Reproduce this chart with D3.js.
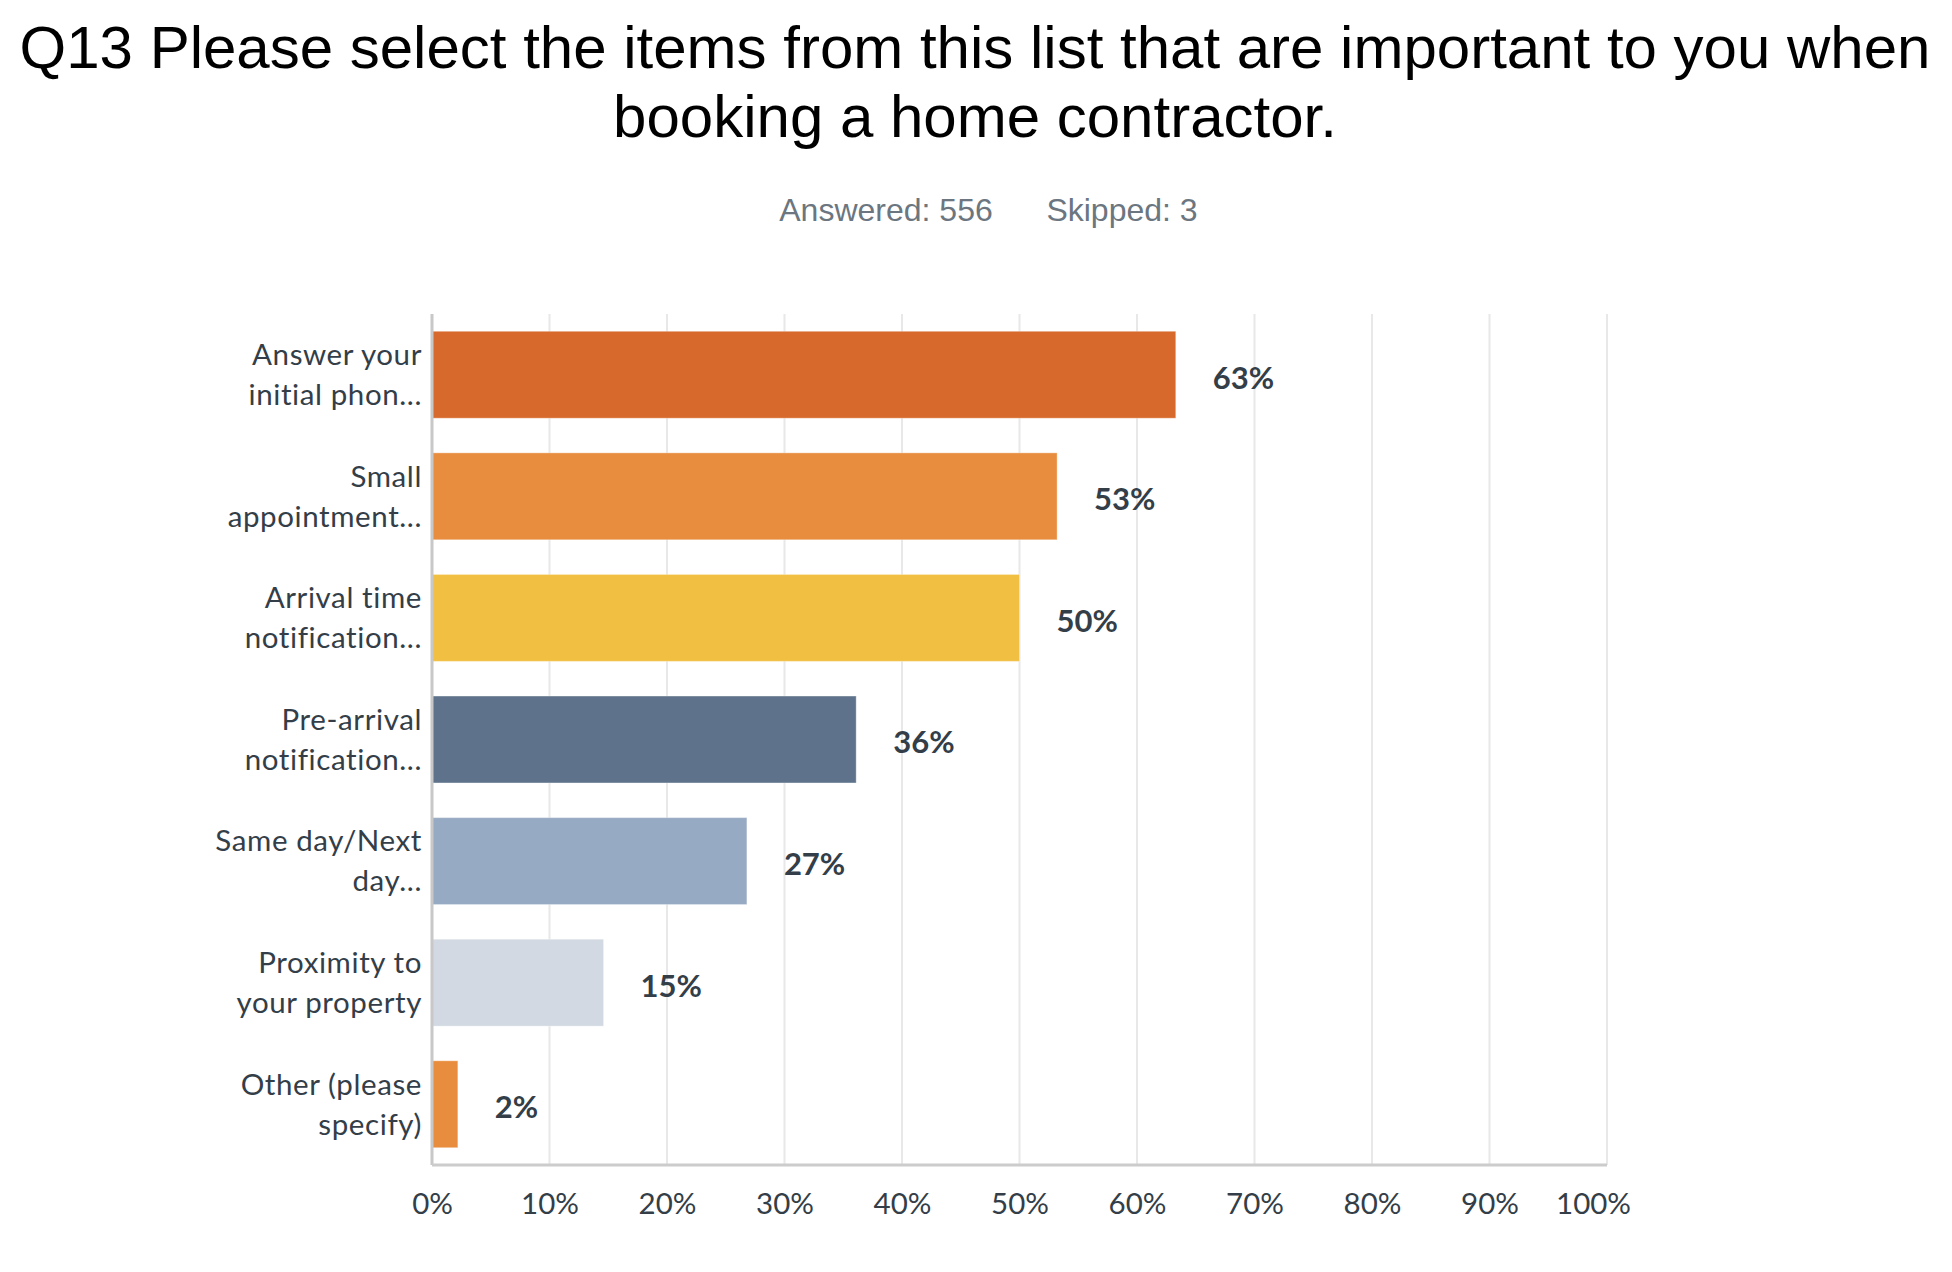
<!DOCTYPE html>
<meta charset="utf-8">
<html>
<head>
<script src="https://d3js.org/d3.v7.min.js"></script>
<style>
body { margin: 0; background: #ffffff; }
</style>
</head>
<body>
<div id="chart"></div>
<script>

// data
var labels = [
  ["Answer your", "initial phon..."],
  ["Small", "appointment..."],
  ["Arrival time", "notification..."],
  ["Pre-arrival", "notification..."],
  ["Same day/Next", "day..."],
  ["Proximity to", "your property"],
  ["Other (please", "specify)"]
];
var values = [63.3, 53.2, 50.0, 36.1, 26.8, 14.6, 2.2];
var valueLabels = ["63%", "53%", "50%", "36%", "27%", "15%", "2%"];
var barColors = ["#d6692b", "#e88d3d", "#f1bf42", "#5e738b", "#97aac3", "#d2d9e2", "#e88d3d"];
var xTicks = [0, 10, 20, 30, 40, 50, 60, 70, 80, 90, 100];

var W = 1952, H = 1272;
var plotLeft = 432, plotRight = 1607, plotTop = 314, plotBottom = 1165;
var labelFont = "Lato, 'Open Sans', sans-serif";

var svg = d3.select("#chart")
  .append("svg")
    .attr("width", W)
    .attr("height", H);

// title
var title = svg.append("text")
  .attr("text-anchor", "middle")
  .style("font-family", "'Liberation Sans', Arial, sans-serif")
  .style("font-size", "60px")
  .style("fill", "#000");
title.append("tspan").attr("x", 975).attr("y", 68)
  .text("Q13 Please select the items from this list that are important to you when");
title.append("tspan").attr("x", 975).attr("y", 137)
  .text("booking a home contractor.");

// answered / skipped
svg.append("text")
  .attr("x", 886).attr("y", 221)
  .attr("text-anchor", "middle")
  .style("font-family", "'Liberation Sans', Arial, sans-serif")
  .style("font-size", "32px")
  .style("fill", "#6b7680")
  .text("Answered: 556");
svg.append("text")
  .attr("x", 1122).attr("y", 221)
  .attr("text-anchor", "middle")
  .style("font-family", "'Liberation Sans', Arial, sans-serif")
  .style("font-size", "32px")
  .style("fill", "#6b7680")
  .text("Skipped: 3");

var x = d3.scaleLinear()
  .domain([0, 100])
  .range([plotLeft, plotRight]);

var y = d3.scaleBand()
  .domain(d3.range(values.length))
  .range([plotTop, plotBottom])
  .paddingInner(0.285)
  .paddingOuter(0.142);

// gridlines
svg.append("g")
  .selectAll("line")
  .data(xTicks.slice(1))
  .enter()
  .append("line")
    .attr("x1", function(d) { return x(d); })
    .attr("x2", function(d) { return x(d); })
    .attr("y1", plotTop)
    .attr("y2", plotBottom)
    .attr("stroke", "#e8e8e8")
    .attr("stroke-width", 2);

// bars
svg.append("g")
  .selectAll("rect")
  .data(values)
  .enter()
  .append("rect")
    .attr("x", x(0))
    .attr("y", function(d, i) { return y(i); })
    .attr("width", function(d) { return x(d) - x(0); })
    .attr("height", y.bandwidth())
    .style("fill", function(d, i) { return barColors[i]; })
    .style("stroke", "#ffffff")
    .style("stroke-opacity", 0.35)
    .style("stroke-width", 1);

// value labels
svg.append("g")
  .selectAll("text")
  .data(values)
  .enter()
  .append("text")
    .attr("x", function(d) { return x(d) + 37; })
    .attr("y", function(d, i) { return y(i) + y.bandwidth() / 2; })
    .attr("dy", "0.45em")
    .style("font-family", labelFont)
    .style("font-weight", "bold")
    .style("font-size", "31px")
    .style("fill", "#333e48")
    .text(function(d, i) { return valueLabels[i]; });

// category labels
var catG = svg.append("g")
  .selectAll("text")
  .data(labels)
  .enter()
  .append("text")
    .attr("text-anchor", "end")
    .style("font-family", labelFont)
    .style("font-size", "29.5px")
    .style("letter-spacing", "0.6px")
    .style("fill", "#333e48");
catG.each(function(d, i) {
  var t = d3.select(this);
  var cy = y(i) + y.bandwidth() / 2;
  d.forEach(function(line, j) {
    t.append("tspan")
      .attr("x", plotLeft - 10)
      .attr("y", cy + (j - 0.5) * 40)
      .attr("dy", "0.35em")
      .text(line);
  });
});

// axes lines
svg.append("line")
  .attr("x1", plotLeft).attr("x2", plotLeft)
  .attr("y1", plotTop).attr("y2", plotBottom)
  .attr("stroke", "#c8c8c8")
  .attr("stroke-width", 3);
svg.append("line")
  .attr("x1", plotLeft).attr("x2", plotRight)
  .attr("y1", plotBottom).attr("y2", plotBottom)
  .attr("stroke", "#cccccc")
  .attr("stroke-width", 3);

// x tick labels
var xAxis = svg.append("g")
  .attr("transform", "translate(0," + plotBottom + ")")
  .call(d3.axisBottom(x).tickValues(xTicks).tickSize(0).tickPadding(28)
    .tickFormat(function(d) { return d + "%"; }));
xAxis.select(".domain").remove();
xAxis.selectAll("text")
  .style("font-family", labelFont)
  .style("font-size", "29.5px")
  .style("fill", "#333e48")
  .attr("dx", function(d) { return d === 100 ? -14 : 0; });

</script>
</body>
</html>
